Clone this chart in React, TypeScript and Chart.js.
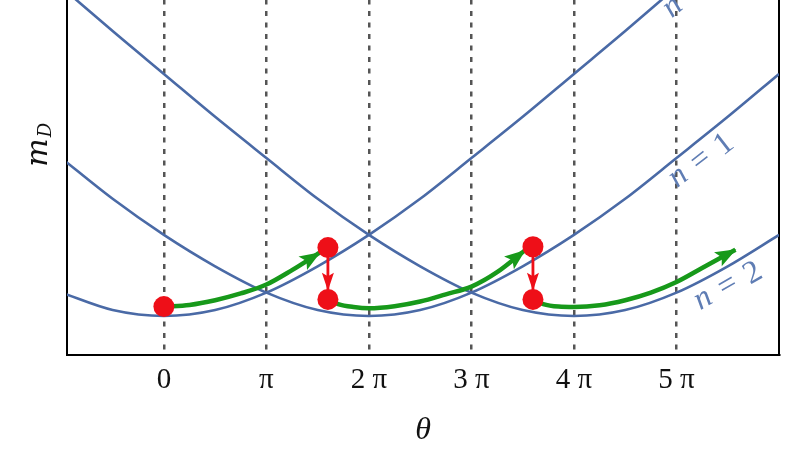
import React, { useEffect, useRef } from 'react';
import { Chart, registerables } from 'chart.js';

Chart.register(...registerables);

// θ is given in units of π
const thetaGrid = [-1, -0.5, 0, 0.5, 1, 1.5, 2, 2.5, 3, 3.5, 4, 4.5, 5, 5.5, 6];
const mDn0 = [1.47, 1.06, 0.92, 1.06, 1.47, 2.09, 2.83, 3.68, 4.64, 5.61, 6.62, 7.63, 8.67, 9.68, 10.69];
const mDn1 = [4.64, 3.68, 2.83, 2.09, 1.47, 1.06, 0.92, 1.06, 1.47, 2.09, 2.83, 3.68, 4.64, 5.61, 6.62];
const mDn2 = [8.67, 7.63, 6.62, 5.61, 4.64, 3.68, 2.83, 2.09, 1.47, 1.06, 0.92, 1.06, 1.47, 2.09, 2.83];

const tickValues = [0, 1, 2, 3, 4, 5];
const tickLabels = ['0', 'π', '2 π', '3 π', '4 π', '5 π'];

const dotTheta = [0, 1.6, 1.6, 3.6, 3.6];
const dotM = [1.14, 2.53, 1.31, 2.55, 1.31];

const green1Theta = [0, 0.25, 0.5, 0.75, 1, 1.25, 1.52];
const green1M = [1.14, 1.18, 1.29, 1.45, 1.66, 2.0, 2.41];
const green2Theta = [1.6, 1.7, 1.85, 2, 2.25, 2.5, 2.75, 3, 3.25, 3.52];
const green2M = [1.31, 1.2, 1.13, 1.1, 1.15, 1.26, 1.43, 1.61, 1.95, 2.46];
const green3Theta = [3.6, 3.7, 3.85, 4, 4.25, 4.5, 4.75, 5, 5.25, 5.575];
const green3M = [1.31, 1.2, 1.14, 1.13, 1.17, 1.29, 1.47, 1.72, 2.05, 2.48];

const drop1Theta = [1.6, 1.6];
const drop1M = [2.53, 1.54];
const drop2Theta = [3.6, 3.6];
const drop2M = [2.55, 1.54];

const curveLabels = ['n = 0', 'n = 1', 'n = 2'];
const labelTheta = [5.19, 5.25, 5.51];
const labelM = [8.57, 4.55, 1.59];
const labelAngleDeg = [40, 38, 30];

const BLUE = '#4a6aa6';
const LABEL_BLUE = '#5f7db4';
const GREEN = '#17991a';
const RED = '#ee0f18';

const pts = (xs: number[], ys: number[]) => xs.map((x, i) => ({ x, y: ys[i] }));

const overlayPlugin = {
  id: 'overlay',
  afterDatasetDraw(chart: any, args: any) {
    const ds = chart.data.datasets[args.index];
    const head = ds.arrowHead;
    if (!head) return;
    const els = args.meta.data;
    const n = els.length;
    const tip = els[n - 1];
    const prev = els[n - 2];
    const ang = Math.atan2(tip.y - prev.y, tip.x - prev.x);
    const ctx = chart.ctx;
    ctx.save();
    ctx.translate(tip.x, tip.y);
    ctx.rotate(ang);
    ctx.beginPath();
    ctx.moveTo(1, 0);
    ctx.lineTo(-head.len, -head.half);
    ctx.lineTo(-head.len * 0.78, 0);
    ctx.lineTo(-head.len, head.half);
    ctx.closePath();
    ctx.fillStyle = ds.borderColor;
    ctx.fill();
    ctx.restore();
  },
  afterDatasetsDraw(chart: any) {
    const ctx = chart.ctx;
    const xs = chart.scales.x;
    const ys = chart.scales.y;
    // curve labels
    curveLabels.forEach((txt, i) => {
      const parts = txt.split(' ');
      const px = xs.getPixelForValue(labelTheta[i]);
      const py = ys.getPixelForValue(labelM[i]);
      ctx.save();
      ctx.translate(px, py);
      ctx.rotate((-labelAngleDeg[i] * Math.PI) / 180);
      ctx.fillStyle = LABEL_BLUE;
      ctx.textAlign = 'center';
      ctx.textBaseline = 'middle';
      ctx.font = 'italic 32px "Liberation Serif"';
      ctx.fillText(parts[0], -28, -3);
      ctx.font = '32px "Liberation Serif"';
      ctx.fillText(parts[1], 0, -2);
      ctx.fillText(parts[2], 28, 0);
      ctx.restore();
    });
    // y axis title m_D
    const area = chart.chartArea;
    const cy = (area.top + area.bottom) / 2 + 2;
    ctx.save();
    ctx.translate(area.left - 20, cy);
    ctx.rotate(-Math.PI / 2);
    ctx.fillStyle = '#111';
    ctx.textAlign = 'left';
    ctx.textBaseline = 'alphabetic';
    ctx.font = 'italic 30px "DejaVu Serif"';
    const mW = ctx.measureText('m').width;
    ctx.font = 'italic 18px "DejaVu Serif"';
    const dW = ctx.measureText('D').width;
    const x0 = -(mW + 1 + dW) / 2;
    ctx.font = 'italic 30px "DejaVu Serif"';
    ctx.fillText('m', x0, 0);
    ctx.font = 'italic 18px "DejaVu Serif"';
    ctx.fillText('D', x0 + mW + 1, 4);
    ctx.restore();
  },
};

export default function App() {
  const ref = useRef<HTMLCanvasElement>(null);
  useEffect(() => {
    const curve = (data: any) => ({
      data,
      borderColor: BLUE,
      borderWidth: 2.6,
      pointRadius: 0,
      cubicInterpolationMode: 'monotone',
      fill: false,
    });
    const arrow = (data: any, color: string, width: number, len: number, half: number) => ({
      data,
      borderColor: color,
      backgroundColor: color,
      borderWidth: width,
      pointRadius: 0,
      cubicInterpolationMode: 'monotone',
      fill: false,
      arrowHead: { len, half },
    });
    const chart = new Chart(ref.current as HTMLCanvasElement, {
      type: 'line',
      data: {
        datasets: [
          {
            data: pts(dotTheta, dotM),
            showLine: false,
            pointRadius: 10.5,
            pointBackgroundColor: RED,
            pointBorderWidth: 0,
            borderColor: RED,
            backgroundColor: RED,
          } as any,
          arrow(pts(drop1Theta, drop1M), RED, 2.8, 17, 6),
          arrow(pts(drop2Theta, drop2M), RED, 2.8, 17, 6),
          arrow(pts(green1Theta, green1M), GREEN, 4.5, 20, 8),
          arrow(pts(green2Theta, green2M), GREEN, 4.5, 20, 8),
          arrow(pts(green3Theta, green3M), GREEN, 4.5, 20, 8),
          curve(pts(thetaGrid, mDn0)),
          curve(pts(thetaGrid, mDn1)),
          curve(pts(thetaGrid, mDn2)),
        ],
      },
      options: {
        animation: false,
        responsive: false,
        devicePixelRatio: 1,
        events: [],
        layout: { padding: 0 },
        plugins: { legend: { display: false }, tooltip: { enabled: false } },
        scales: {
          x: {
            type: 'linear',
            min: -0.945,
            max: 6,
            afterBuildTicks: (s: any) => {
              s.ticks = tickValues.map((v) => ({ value: v }));
            },
            afterFit: (s: any) => {
              s.height = 100;
            },
            ticks: {
              callback: (v: any, i: number) => tickLabels[i] ?? '',
              font: { family: 'Liberation Serif', size: 29 },
              color: '#111',
              padding: 8,
              maxRotation: 0,
              autoSkip: false,
            },
            grid: { display: true, drawTicks: false, color: '#555555', lineWidth: 2.5 },
            border: { display: true, color: '#000', width: 2, dash: [5, 6.5] },
            title: {
              display: true,
              text: 'θ',
              font: { family: 'Liberation Serif', size: 32, style: 'italic' },
              color: '#111',
              padding: { top: 0, bottom: 5 },
            },
          },
          y: {
            type: 'linear',
            min: 0,
            max: 10,
            afterFit: (s: any) => {
              s.width = 67;
            },
            ticks: { display: false },
            grid: { display: false },
            border: { display: true, color: '#000', width: 2 },
          },
          y2: {
            type: 'linear',
            position: 'right',
            min: 0,
            max: 10,
            afterFit: (s: any) => {
              s.width = 29;
            },
            ticks: { display: false },
            grid: { display: false },
            border: { display: true, color: '#000', width: 2 },
          },
        },
      } as any,
      plugins: [overlayPlugin as any],
    });
    return () => chart.destroy();
  }, []);
  return (
    <canvas
      ref={ref}
      width={808}
      height={535}
      style={{ position: 'fixed', left: 0, top: -80, width: 808, height: 535, display: 'block' }}
    />
  );
}
